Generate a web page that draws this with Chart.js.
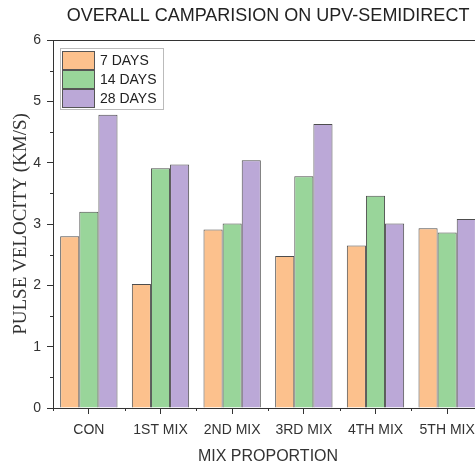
<!DOCTYPE html>
<html>
<head>
<meta charset="utf-8">
<script src="https://cdn.jsdelivr.net/npm/chart.js@4/dist/chart.umd.min.js"></script>
<style>
html,body{margin:0;padding:0;background:#fff;overflow:hidden;width:475px;height:466px;}
#wrap{position:relative;width:536px;height:466px;}
</style>
</head>
<body>
<div id="wrap"><canvas id="c"></canvas></div>
<script>
const categories = ["CON", "1ST MIX", "2ND MIX", "3RD MIX", "4TH MIX", "5TH MIX"];
const days7  = [2.80, 2.02, 2.91, 2.48, 2.65, 2.93];
const days14 = [3.20, 3.91, 3.01, 3.78, 3.46, 2.86];
const days28 = [4.78, 3.97, 4.04, 4.63, 3.01, 3.08];
const seriesLabels = ["7 DAYS", "14 DAYS", "28 DAYS"];
const seriesColors = ["#FCC18D", "#99D59A", "#BBA8D7"];
const yTicks = [0, 1, 2, 3, 4, 5, 6];

const FONT = "'Liberation Sans', Arial, sans-serif";
const SERIF = "'Liberation Serif', 'Times New Roman', serif";
const AXIS = "#333";

const minorTicks = {
  id: 'minorTicks',
  afterDraw(chart) {
    const ctx = chart.ctx, a = chart.chartArea;
    const y = chart.scales.y, x = chart.scales.x;
    ctx.save();
    ctx.strokeStyle = AXIS;
    ctx.lineWidth = 1;
    for (let i = 0; i < yTicks.length - 1; i++) {
      const v = (yTicks[i] + yTicks[i + 1]) / 2;
      const py = Math.round(y.getPixelForValue(v)) + 0.5;
      ctx.beginPath(); ctx.moveTo(a.left - 3, py); ctx.lineTo(a.left, py); ctx.stroke();
    }
    for (let i = 0; i <= categories.length; i++) {
      const px = Math.round(x.getPixelForValue(i - 0.5)) + 0.5;
      ctx.beginPath(); ctx.moveTo(px, a.bottom); ctx.lineTo(px, a.bottom + 3); ctx.stroke();
    }
    ctx.beginPath();
    ctx.moveTo(a.left, Math.round(a.top) + 0.5);
    ctx.lineTo(a.right, Math.round(a.top) + 0.5);
    ctx.stroke();
    // legend
    const lx = a.left + 8, ly = a.top + 9, bw = 33, bh = 19;
    ctx.strokeStyle = '#bbb';
    ctx.strokeRect(lx - 0.5, ly - 0.5, 103, 61);
    ctx.font = "14px " + FONT;
    ctx.textBaseline = 'middle';
    ctx.textAlign = 'left';
    chart.data.datasets.forEach((ds, i) => {
      const by = ly + 2 + i * bh;
      ctx.fillStyle = ds.backgroundColor;
      ctx.fillRect(lx + 1, by, bw, bh);
      ctx.strokeStyle = '#555';
      ctx.strokeRect(lx + 1.5, by + 0.5, bw - 1, bh - 1);
      ctx.fillStyle = '#222';
      ctx.fillText(ds.label, lx + 39, by + bh / 2 + 1);
    });
    ctx.restore();
  }
};

new Chart(document.getElementById('c'), {
  type: 'bar',
  data: {
    labels: categories,
    datasets: [days7, days14, days28].map((d, i) => ({
      label: seriesLabels[i],
      data: d,
      backgroundColor: seriesColors[i],
      borderColor: '#4d4d4d',
      borderWidth: 1,
      barPercentage: 1.0,
      categoryPercentage: 0.8,
      yAxisID: 'y'
    }))
  },
  options: {
    responsive: true,
    maintainAspectRatio: false,
    animation: false,
    devicePixelRatio: 1,
    layout: { padding: 0 },
    plugins: {
      legend: { display: false },
      tooltip: { enabled: false },
      title: {
        display: true,
        text: 'OVERALL CAMPARISION ON UPV-SEMIDIRECT',
        color: '#222',
        font: { family: FONT, size: 18, weight: 'normal' },
        padding: { top: 5, bottom: 13.4 }
      }
    },
    scales: {
      x: {
        afterFit(s) { s.height = 58; },
        grid: { display: true, drawOnChartArea: false, drawTicks: true, tickLength: 6, color: AXIS, tickColor: AXIS, offset: false },
        border: { display: true, color: AXIS, width: 1 },
        ticks: { color: '#333', font: { family: FONT, size: 14 }, padding: 8, maxRotation: 0, autoSkip: false },
        title: { display: true, text: 'MIX PROPORTION', color: '#333', font: { family: FONT, size: 16 }, padding: { top: 0, bottom: 0 } }
      },
      y: {
        min: 0, max: 6,
        afterFit(s) { s.width = 53; },
        afterBuildTicks(s) { s.ticks = yTicks.map(v => ({ value: v })); },
        grid: { display: true, drawOnChartArea: false, drawTicks: true, tickLength: 6, tickColor: AXIS },
        border: { display: true, color: AXIS, width: 1 },
        ticks: { color: '#333', font: { family: FONT, size: 14 }, padding: 6 },
        title: { display: true, text: 'PULSE VELOCITY (KM/S)', color: '#333', font: { family: SERIF, size: 19 }, padding: { top: 10, bottom: 0 } }
      },
      y2: {
        position: 'right',
        min: 0, max: 6,
        afterFit(s) { s.width = 53; },
        grid: { display: false, drawTicks: false },
        border: { display: true, color: AXIS, width: 1 },
        ticks: { display: false }
      }
    }
  },
  plugins: [minorTicks]
});
</script>
</body>
</html>
